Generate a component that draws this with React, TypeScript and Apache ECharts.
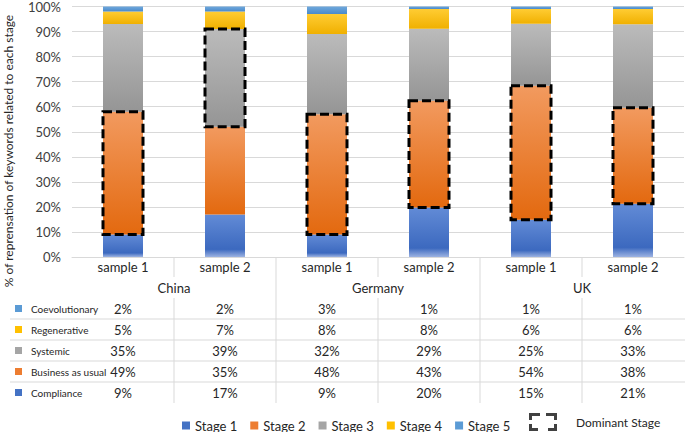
import React, { useEffect, useRef } from 'react';
import * as echarts from 'echarts';

// ---------- data ----------
const samples = ['sample 1', 'sample 2', 'sample 1', 'sample 2', 'sample 1', 'sample 2'];
const countries = ['China', 'Germany', 'UK'];
const stageNames = ['Stage 1', 'Stage 2', 'Stage 3', 'Stage 4', 'Stage 5'];
const compliance = [9, 17, 9, 20, 15, 21];
const businessAsUsual = [49, 35, 48, 43, 54, 38];
const systemic = [35, 39, 32, 29, 25, 33];
const regenerative = [5, 7, 8, 8, 6, 6];
const coevolutionary = [2, 2, 3, 1, 1, 1];
// index (0 = Stage 1) of the dominant stage of each sample
const dominantStage = [1, 2, 1, 1, 1, 1];
const rowNames = ['Coevolutionary', 'Regenerative', 'Systemic', 'Business as usual', 'Compliance'];
const yAxisTitle = '% of reprensation of keywords related to each stage';

const stageValues = [compliance, businessAsUsual, systemic, regenerative, coevolutionary];
const tableRows = [coevolutionary, regenerative, systemic, businessAsUsual, compliance];

// 100% stacked: each sample's shares scaled to a total of 100
const totals = samples.map((_, k) => stageValues.reduce((s, arr) => s + arr[k], 0));
const stageShares = stageValues.map((arr) => arr.map((v, k) => (v / totals[k]) * 100));

// ---------- styles ----------
const FONT = 'Lato, "Noto Sans", sans-serif';
const stageColors = ['#4472C4', '#ED7D31', '#A5A5A5', '#FFC000', '#5B9BD5'];
const rowColors = ['#5B9BD5', '#FFC000', '#A5A5A5', '#ED7D31', '#4472C4'];
const stageStops: [number, string][][] = [
  [[0, '#628BD6'], [0.82, '#3C69BF'], [1, '#9DB3E2']],
  [[0, '#F29A5F'], [1, '#E3690F']],
  [[0, '#BBBBBB'], [1, '#959595']],
  [[0, '#FFCC33'], [1, '#F0B000']],
  [[0, '#6FA8DC'], [1, '#4A8ACB']],
];
const GRID_LEFT = 72;
const GRID_RIGHT = 1;
const GRID_TOP = 6;
const AXIS_Y = 257;
const SAMPLE_ROW_H = 20;
const COUNTRY_ROW_H = 21;
const ROW_H = 21;
const TABLE_TOP = AXIS_Y + SAMPLE_ROW_H + COUNTRY_ROW_H;
const TABLE_BOTTOM = TABLE_TOP + ROW_H * tableRows.length;
const LINE_COLOR = '#D9D9D9';
const TEXT_COLOR = '#262626';
const BAR_WIDTH = 40;

export default function App() {
  const ref = useRef<HTMLDivElement>(null);

  useEffect(() => {
    document.body.style.margin = '0';
    const chart = echarts.init(ref.current!, null, { renderer: 'svg' });

    const valueAxes = tableRows.map((row, i) => ({
      type: 'category',
      gridIndex: 0,
      position: 'bottom',
      offset: SAMPLE_ROW_H + COUNTRY_ROW_H + ROW_H * i,
      data: row.map((_, k) => String(k)),
      axisLine: { show: false, onZero: false },
      axisTick: { show: false },
      splitLine: { show: false },
      axisLabel: {
        interval: 0,
        margin: ROW_H / 2,
        verticalAlign: 'middle',
        fontSize: 13,
        fontFamily: FONT,
        color: TEXT_COLOR,
        formatter: (_v: string, idx: number) => row[idx] + '%',
      },
    }));

    const dominantData = dominantStage.map((s, k) => {
      let lo = 0;
      for (let j = 0; j < s; j++) lo += stageShares[j][k];
      return [k, lo, lo + stageShares[s][k]];
    });

    const option: any = {
      animation: false,
      grid: { left: GRID_LEFT, right: GRID_RIGHT, top: GRID_TOP, bottom: 432 - AXIS_Y },
      xAxis: [
        {
          type: 'category',
          position: 'bottom',
          data: samples,
          axisLine: { show: true, lineStyle: { color: LINE_COLOR, width: 1 } },
          axisTick: { show: false },
          axisLabel: {
            interval: 0,
            margin: 10,
            verticalAlign: 'middle',
            fontSize: 13,
            fontFamily: FONT,
            color: TEXT_COLOR,
            formatter: (_v: string, idx: number) => samples[idx],
          },
        },
        {
          type: 'category',
          position: 'bottom',
          offset: SAMPLE_ROW_H,
          data: countries,
          axisLine: { show: false, onZero: false },
          axisTick: { show: false },
          axisLabel: {
            interval: 0,
            margin: 11,
            verticalAlign: 'middle',
            fontSize: 13,
            fontFamily: FONT,
            color: TEXT_COLOR,
          },
        },
        ...valueAxes,
      ],
      yAxis: {
        type: 'value',
        min: 0,
        max: 100,
        interval: 10,
        axisLine: { show: false },
        axisTick: { show: false },
        splitLine: { lineStyle: { color: LINE_COLOR, width: 1 } },
        axisLabel: {
          formatter: '{value}%',
          fontSize: 13,
          fontFamily: FONT,
          color: '#404040',
          margin: 11,
        },
      },
      legend: [
        {
          left: 182,
          top: 419,
          padding: 0,
          itemWidth: 8,
          itemHeight: 8,
          itemGap: 13,
          selectedMode: false,
          icon: 'rect',
          textStyle: { fontSize: 13, fontFamily: FONT, color: TEXT_COLOR },
          data: stageNames.map((n, i) => ({ name: n, itemStyle: { color: stageColors[i] } })),
        },
        {
          left: 529,
          top: 413,
          padding: 0,
          itemWidth: 28,
          itemHeight: 18,
          selectedMode: false,
          textStyle: { fontSize: 12, fontFamily: FONT, color: TEXT_COLOR, padding: [0, 0, 0, 14] },
          data: [
            {
              name: 'Dominant Stage',
              icon: 'path://M0,0H11V3H3V7H0Z M17,0H28V7H25V3H17Z M0,11H3V15H9V18H0Z M19,15H25V11H28V18H19Z',
              itemStyle: { color: '#111' },
            },
          ],
        },
      ],
      series: [
        ...stageNames.map((name, i) => ({
          name,
          type: 'bar',
          stack: 'total',
          barWidth: BAR_WIDTH,
          xAxisIndex: 0,
          yAxisIndex: 0,
          data: stageShares[i],
          itemStyle: {
            color: new echarts.graphic.LinearGradient(
              0, 0, 0, 1,
              stageStops[i].map(([offset, color]) => ({ offset, color }))
            ),
          },
        })),
        {
          name: 'Dominant Stage',
          type: 'scatter',
          data: [],
          itemStyle: { color: '#111' },
        },
        {
          name: 'dominant-box',
          type: 'custom',
          xAxisIndex: 0,
          yAxisIndex: 0,
          z: 10,
          data: dominantData,
          encode: { x: 0, y: [1, 2] },
          renderItem: (_params: any, api: any) => {
            const idx = api.value(0);
            const top = api.coord([idx, api.value(2)]);
            const bottom = api.coord([idx, api.value(1)]);
            return {
              type: 'rect',
              shape: { x: top[0] - BAR_WIDTH / 2, y: top[1], width: BAR_WIDTH, height: bottom[1] - top[1] },
              style: { fill: 'none', stroke: '#000', lineWidth: 3, lineDash: [9, 4] },
            };
          },
        },
      ],
    };

    chart.setOption(option);

    // table grid lines, aligned on the category axis
    const c0 = chart.convertToPixel({ xAxisIndex: 0 }, 0) as unknown as number;
    const c1 = chart.convertToPixel({ xAxisIndex: 0 }, 1) as unknown as number;
    const band = c1 - c0;
    const axisY = chart.convertToPixel({ yAxisIndex: 0 }, 0) as unknown as number;
    const graphics: any[] = [];
    for (let b = 1; b < samples.length; b++) {
      const x = c0 - band / 2 + b * band;
      const countryEdge = b % 2 === 0;
      if (countryEdge) {
        graphics.push({ type: 'line', shape: { x1: x, y1: axisY, x2: x, y2: TABLE_BOTTOM }, style: { stroke: LINE_COLOR, lineWidth: 1 } });
      } else {
        graphics.push({ type: 'line', shape: { x1: x, y1: axisY, x2: x, y2: axisY + SAMPLE_ROW_H }, style: { stroke: LINE_COLOR, lineWidth: 1 } });
        graphics.push({ type: 'line', shape: { x1: x, y1: TABLE_TOP, x2: x, y2: TABLE_BOTTOM }, style: { stroke: LINE_COLOR, lineWidth: 1 } });
      }
    }
    for (let r = 1; r < tableRows.length; r++) {
      const y = TABLE_TOP + r * ROW_H;
      graphics.push({ type: 'line', shape: { x1: 10, y1: y, x2: 685, y2: y }, style: { stroke: LINE_COLOR, lineWidth: 1 } });
    }
    rowNames.forEach((name, r) => {
      const cy = TABLE_TOP + r * ROW_H + ROW_H / 2;
      graphics.push({ type: 'rect', shape: { x: 15, y: cy - 3.5, width: 7, height: 7 }, style: { fill: rowColors[r] } });
      graphics.push({
        type: 'text',
        x: 31,
        y: cy,
        style: { text: name, fontSize: 10, fontFamily: FONT, fill: TEXT_COLOR, align: 'left', verticalAlign: 'middle' },
      });
    });
    graphics.push({
      type: 'text',
      x: 8,
      y: 151,
      rotation: Math.PI / 2,
      style: { text: yAxisTitle, fontSize: 12, fontFamily: FONT, fill: TEXT_COLOR, align: 'center', verticalAlign: 'middle' },
    });
    chart.setOption({ graphic: graphics });

    return () => chart.dispose();
  }, []);

  return <div ref={ref} style={{ width: 685, height: 432 }} />;
}
